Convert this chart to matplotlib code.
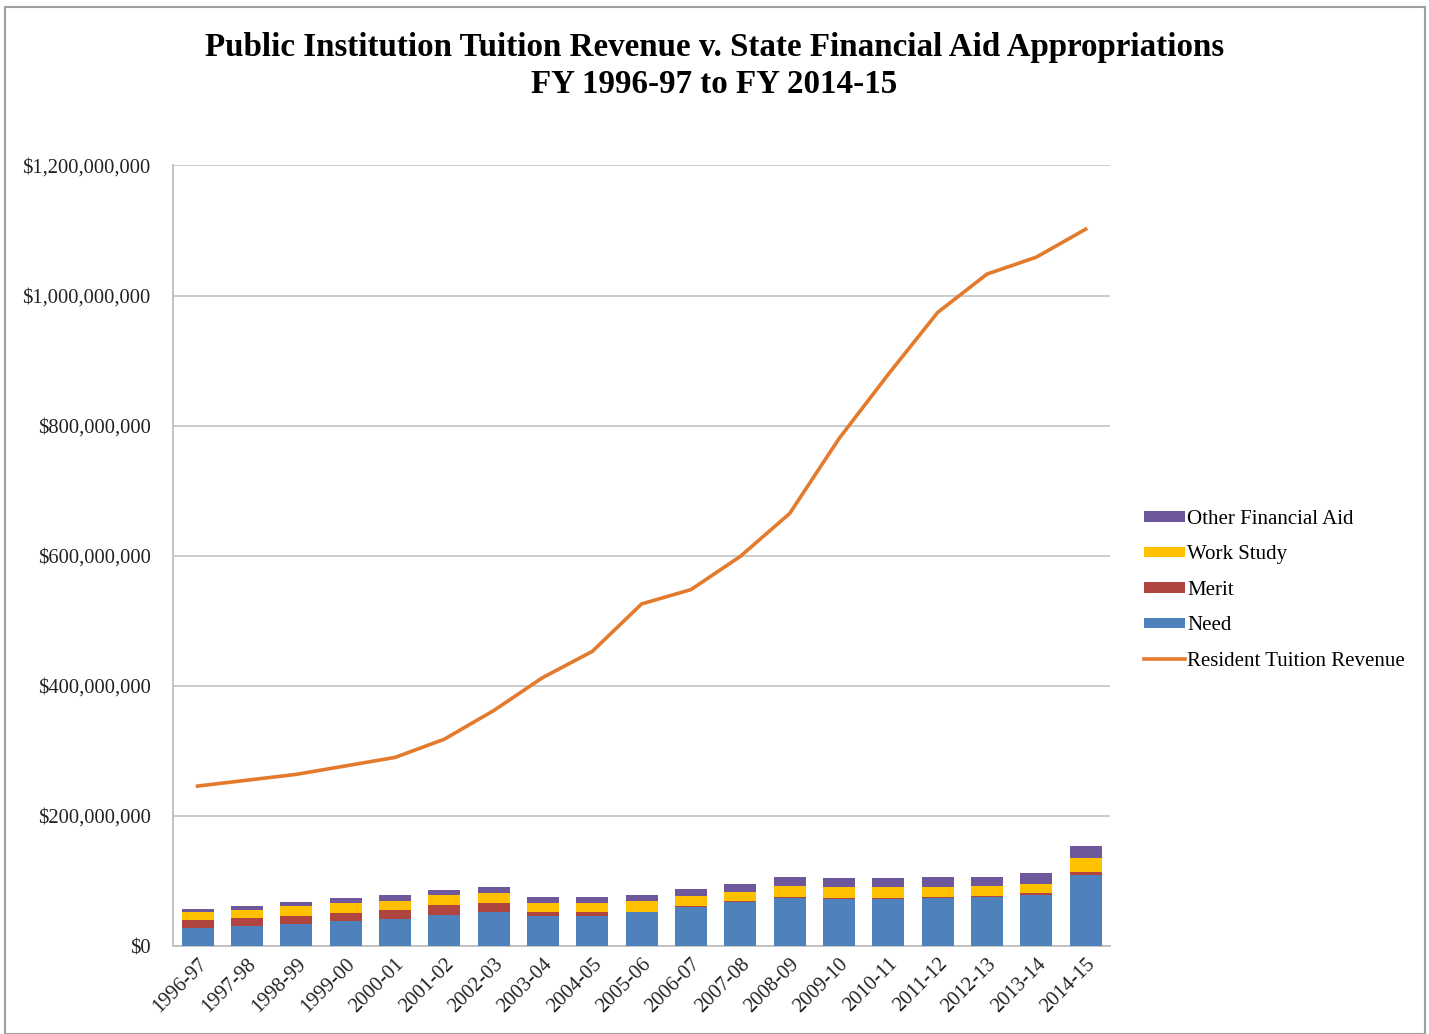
import numpy as np
import matplotlib
matplotlib.use("Agg")
import matplotlib.pyplot as plt
from matplotlib.patches import Rectangle
from matplotlib.ticker import FuncFormatter

plt.rcParams['font.family'] = ['Liberation Serif', 'DejaVu Serif']

years = ["1996-97", "1997-98", "1998-99", "1999-00", "2000-01", "2001-02",
         "2002-03", "2003-04", "2004-05", "2005-06", "2006-07", "2007-08",
         "2008-09", "2009-10", "2010-11", "2011-12", "2012-13", "2013-14",
         "2014-15"]

# state financial aid appropriations, millions of dollars
need = [28, 31, 34, 38, 41, 48, 52, 46, 46, 52, 60, 68, 74, 73, 73, 74, 75, 79, 110]
merit = [12, 12, 13, 13, 15, 15, 14, 6, 6, 1, 1.5, 1.5, 2, 1.5, 1.5, 1.5, 1.5, 2, 4.5]
work_study = [12, 12, 14, 15, 14, 16, 16, 15, 15, 16, 15, 14, 16, 16.5, 16.5, 16, 16, 15, 21]
other_aid = [5, 7, 7, 8, 8, 8, 9, 9, 9, 9, 11, 12, 14, 14, 14, 14, 14, 16, 19]

# resident tuition revenue, millions of dollars
tuition = [246, 255, 264, 277, 290, 318, 362, 413, 453, 526, 548, 599, 665,
           780, 879, 974, 1033, 1059, 1102]

M = 1e6
need = np.array(need) * M
merit = np.array(merit) * M
work_study = np.array(work_study) * M
other_aid = np.array(other_aid) * M
tuition = np.array(tuition) * M

c_need = "#4F81BD"
c_merit = "#B0443F"
c_work = "#FFC000"
c_other = "#6E579A"
c_line = "#E37A2C"

fig = plt.figure(figsize=(14.29, 10.34), dpi=100)
ax = fig.add_axes([0.121, 0.085, 0.656, 0.755])

x = np.arange(len(years))
w = 0.65
b_need = ax.bar(x, need, w, color=c_need, label="Need", zorder=3)
b_merit = ax.bar(x, merit, w, bottom=need, color=c_merit, label="Merit", zorder=3)
b_work = ax.bar(x, work_study, w, bottom=need + merit, color=c_work,
                label="Work Study", zorder=3)
b_other = ax.bar(x, other_aid, w, bottom=need + merit + work_study,
                 color=c_other, label="Other Financial Aid", zorder=3)
ln, = ax.plot(x, tuition, color=c_line, lw=2.6, label="Resident Tuition Revenue",
              zorder=4)

ax.set_ylim(0, 1.2e9)
ax.set_xlim(-0.5, len(years) - 0.5)
ax.set_yticks(np.arange(0, 1.2e9 + 1, 2e8))
ax.yaxis.set_major_formatter(FuncFormatter(lambda v, p: "${:,.0f}".format(v)))
ax.yaxis.grid(True, color="#C8C8C8", lw=1.3, zorder=0)
ax.set_axisbelow(True)

ax.set_xticks(x)
ax.set_xticklabels(years, rotation=45, ha="right", rotation_mode="anchor")
ax.tick_params(axis="both", labelsize=14.8, length=0, colors="#222222")
ax.tick_params(axis="y", pad=16)
ax.tick_params(axis="x", pad=6)

for s in ["top", "right"]:
    ax.spines[s].set_visible(False)
for s in ["left", "bottom"]:
    ax.spines[s].set_color("#BFBFBF")
    ax.spines[s].set_linewidth(1.3)

fig.text(0.5, 0.954, "Public Institution Tuition Revenue v. State Financial Aid Appropriations",
         ha="center", va="center", fontsize=23.8, fontweight="bold")
fig.text(0.5, 0.918, "FY 1996-97 to FY 2014-15",
         ha="center", va="center", fontsize=23.8, fontweight="bold")

handles = [b_other, b_work, b_merit, b_need, ln]
labels = [h.get_label() for h in handles]
leg = fig.legend(handles, labels, loc="center left", bbox_to_anchor=(0.7875, 0.429),
                 frameon=False, fontsize=15, handlelength=1.95, handleheight=0.42,
                 handletextpad=0.12, labelspacing=0.79)

# grey frame round the whole figure
fig.patches.append(Rectangle((0.0035, 0.0), 0.9935, 0.993, transform=fig.transFigure,
                             fill=False, edgecolor="#A0A0A0", lw=1.5))

fig.savefig("out.png", dpi=100)
